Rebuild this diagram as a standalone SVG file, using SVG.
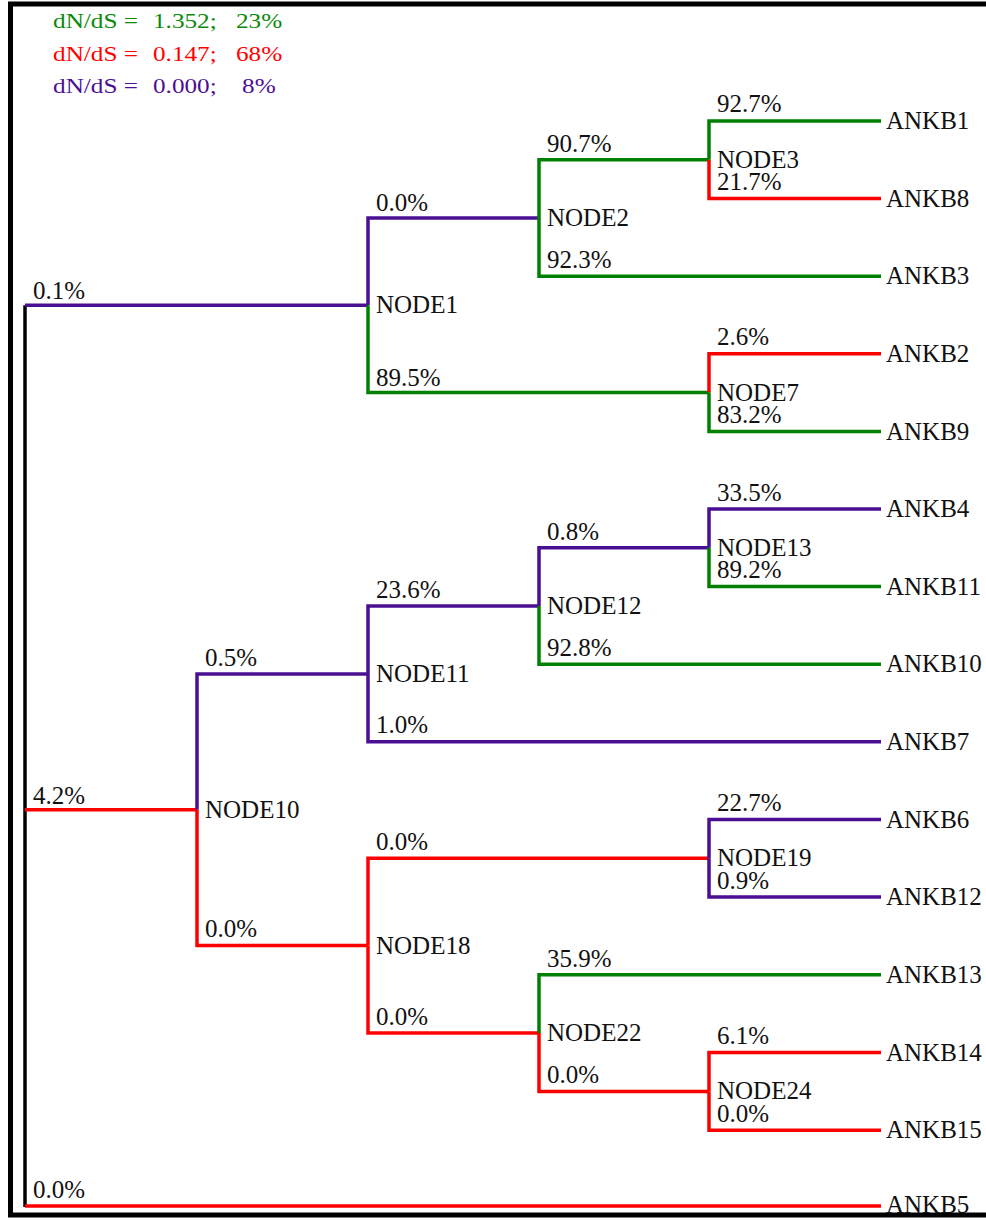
<svg xmlns="http://www.w3.org/2000/svg" width="986" height="1220" viewBox="0 0 986 1220">
<style>
text{font-family:"Liberation Serif","Times New Roman",serif;font-size:25px;fill:#111}
.lg{font-size:21px}
.b{fill:none;stroke-width:3.5;stroke-linecap:butt;stroke-linejoin:miter}
.g{stroke:#008000}.r{stroke:#ff0000}.p{stroke:#4b0f94}.k{stroke:#000}
.tg{fill:#0a8a0a}.tr{fill:#ff0000}.tp{fill:#4b0f94}
</style>
<rect x="10.5" y="4" width="990" height="1211" fill="#fff" stroke="#000" stroke-width="5"/>
<g id="legend" transform="scale(1.2,1)">
<text class="lg tg" x="44.2" y="28">dN/dS =</text><text class="lg tg" x="127.5" y="28">1.352;</text><text class="lg tg" x="196.7" y="28">23%</text>
<text class="lg tr" x="44.2" y="61">dN/dS =</text><text class="lg tr" x="127.5" y="61">0.147;</text><text class="lg tr" x="196.7" y="61">68%</text>
<text class="lg tp" x="44.2" y="93">dN/dS =</text><text class="lg tp" x="127.5" y="93">0.000;</text><text class="lg tp" x="201.7" y="93">8%</text>
</g>
<g id="connectors">
<path class="b k" d="M25,305.3V1207"/>
<path class="b p" d="M25,305.3H368"/>
<path class="b r" d="M25,809.8H197"/>
<path class="b r" d="M25,1206H881"/>
<path class="b p" d="M368,305.3V218H539"/>
<path class="b g" d="M368,305.3V392.6H709"/>
<path class="b g" d="M539,218V159.8H709"/>
<path class="b g" d="M539,218V276.2H881"/>
<path class="b g" d="M709,159.8V121H881"/>
<path class="b r" d="M709,159.8V198.6H881"/>
<path class="b r" d="M709,392.6V353.8H881"/>
<path class="b g" d="M709,392.6V431.4H881"/>
<path class="b p" d="M197,809.8V673.9H368"/>
<path class="b r" d="M197,809.8V945.6H368"/>
<path class="b p" d="M368,673.9V606H539"/>
<path class="b p" d="M368,673.9V741.8H881"/>
<path class="b p" d="M539,606V547.8H709"/>
<path class="b g" d="M539,606V664.2H881"/>
<path class="b p" d="M709,547.8V509H881"/>
<path class="b g" d="M709,547.8V586.6H881"/>
<path class="b r" d="M368,945.6V858.2H709"/>
<path class="b r" d="M368,945.6V1033.1H539"/>
<path class="b p" d="M709,858.2V819.4H881"/>
<path class="b p" d="M709,858.2V897H881"/>
<path class="b g" d="M539,1033.1V974.8H881"/>
<path class="b r" d="M539,1033.1V1091.4H709"/>
<path class="b r" d="M709,1091.4V1052.6H881"/>
<path class="b r" d="M709,1091.4V1130.2H881"/>
</g>
<g id="branch-labels">
<text x="33" y="299">0.1%</text>
<text x="33" y="804">4.2%</text>
<text x="33" y="1198">0.0%</text>
<text x="376" y="211">0.0%</text>
<text x="376" y="386">89.5%</text>
<text x="547" y="152">90.7%</text>
<text x="547" y="268">92.3%</text>
<text x="717" y="112">92.7%</text>
<text x="717" y="190">21.7%</text>
<text x="717" y="345">2.6%</text>
<text x="717" y="423">83.2%</text>
<text x="205" y="666">0.5%</text>
<text x="205" y="937">0.0%</text>
<text x="376" y="598">23.6%</text>
<text x="376" y="733">1.0%</text>
<text x="547" y="540">0.8%</text>
<text x="547" y="656">92.8%</text>
<text x="717" y="501">33.5%</text>
<text x="717" y="578">89.2%</text>
<text x="376" y="850">0.0%</text>
<text x="376" y="1025">0.0%</text>
<text x="717" y="811">22.7%</text>
<text x="717" y="889">0.9%</text>
<text x="547" y="967">35.9%</text>
<text x="547" y="1083">0.0%</text>
<text x="717" y="1044">6.1%</text>
<text x="717" y="1122">0.0%</text>
</g>
<g id="NODE1"><text x="376" y="313">NODE1</text></g>
<g id="NODE2"><text x="547" y="226">NODE2</text></g>
<g id="NODE3"><text x="717" y="168">NODE3</text></g>
<g id="NODE7"><text x="717" y="401">NODE7</text></g>
<g id="NODE10"><text x="205" y="818">NODE10</text></g>
<g id="NODE11"><text x="376" y="682">NODE11</text></g>
<g id="NODE12"><text x="547" y="614">NODE12</text></g>
<g id="NODE13"><text x="717" y="556">NODE13</text></g>
<g id="NODE18"><text x="376" y="954">NODE18</text></g>
<g id="NODE19"><text x="717" y="866">NODE19</text></g>
<g id="NODE22"><text x="547" y="1041">NODE22</text></g>
<g id="NODE24"><text x="717" y="1099">NODE24</text></g>
<g id="ANKB1"><text x="886" y="129">ANKB1</text></g>
<g id="ANKB8"><text x="886" y="207">ANKB8</text></g>
<g id="ANKB3"><text x="886" y="284">ANKB3</text></g>
<g id="ANKB2"><text x="886" y="362">ANKB2</text></g>
<g id="ANKB9"><text x="886" y="440">ANKB9</text></g>
<g id="ANKB4"><text x="886" y="517">ANKB4</text></g>
<g id="ANKB11"><text x="886" y="595">ANKB11</text></g>
<g id="ANKB10"><text x="886" y="672">ANKB10</text></g>
<g id="ANKB7"><text x="886" y="750">ANKB7</text></g>
<g id="ANKB6"><text x="886" y="828">ANKB6</text></g>
<g id="ANKB12"><text x="886" y="905">ANKB12</text></g>
<g id="ANKB13"><text x="886" y="983">ANKB13</text></g>
<g id="ANKB14"><text x="886" y="1061">ANKB14</text></g>
<g id="ANKB15"><text x="886" y="1138">ANKB15</text></g>
<g id="ANKB5"><text x="886" y="1213">ANKB5</text></g>
</svg>
